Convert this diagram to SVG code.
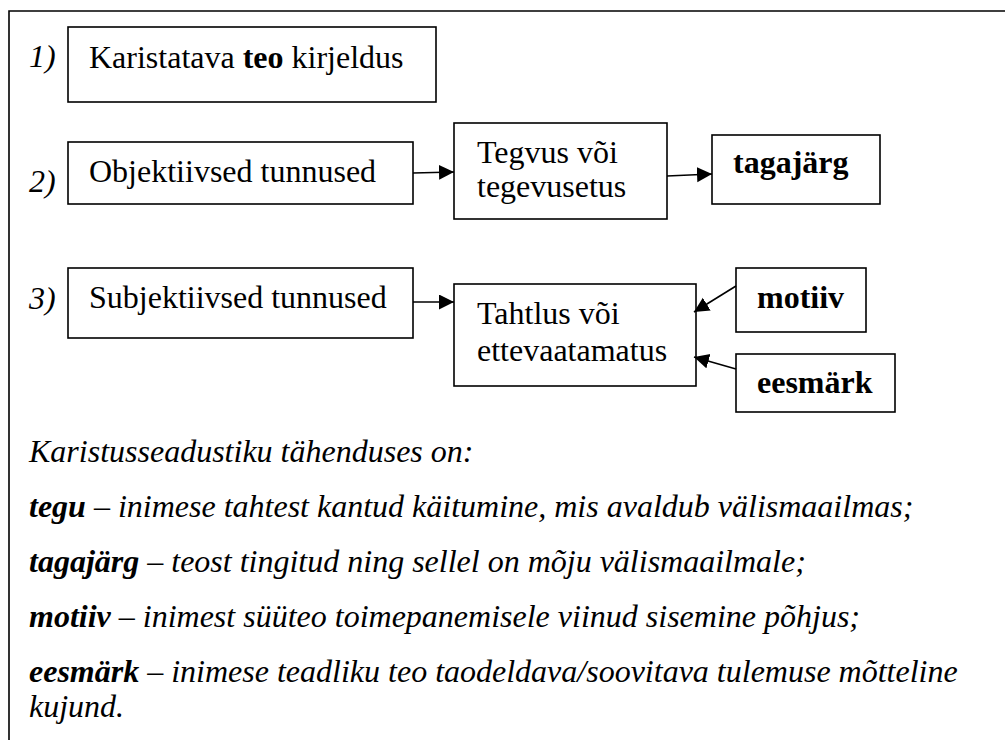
<svg xmlns="http://www.w3.org/2000/svg" width="1005" height="740" viewBox="0 0 1005 740" font-family="'Liberation Serif', 'DejaVu Serif', 'Times New Roman', serif">
<style>
.box{fill:#fff;stroke:#000;stroke-width:1.6}
.t{font-family:'Liberation Serif','DejaVu Serif','Times New Roman',serif;font-size:32px;fill:#000}
.b{font-weight:bold}
.i{font-style:italic}
.conn{stroke:#000;stroke-width:1.6;fill:none}
</style>
<defs>
<marker id="ah" markerUnits="userSpaceOnUse" markerWidth="16" markerHeight="16" refX="15" refY="7.5" orient="auto">
<path d="M0,0 L15,7.5 L0,15 Z" fill="#000"/>
</marker>
</defs>
<rect width="1005" height="740" fill="#fff"/>
<g id="frame">
<path d="M9,740 L9,11 L1005,11" class="conn"/>
</g>
<g id="labels">
<text class="t i" x="29" y="67">1)</text>
<text class="t i" x="29" y="192">2)</text>
<text class="t i" x="29" y="309">3)</text>
</g>
<g id="n1">
<rect class="box" x="68" y="27" width="368" height="75"/>
<text class="t" x="89" y="68">Karistatava <tspan class="b">teo</tspan> kirjeldus</text>
</g>
<g id="n2">
<rect class="box" x="68" y="142" width="345" height="62"/>
<text class="t" x="89" y="182">Objektiivsed tunnused</text>
</g>
<g id="n3">
<rect class="box" x="454" y="123" width="213" height="96"/>
<text class="t" x="477" y="163">Tegvus või</text>
<text class="t" x="477" y="197">tegevusetus</text>
</g>
<g id="n4">
<rect class="box" x="712" y="135" width="168" height="69"/>
<text class="t b" x="733" y="173">tagajärg</text>
</g>
<g id="n5">
<rect class="box" x="68" y="268" width="345" height="70"/>
<text class="t" x="89" y="308">Subjektiivsed tunnused</text>
</g>
<g id="n6">
<rect class="box" x="454" y="284" width="242" height="102"/>
<text class="t" x="477" y="324">Tahtlus või</text>
<text class="t" x="477" y="361">ettevaatamatus</text>
</g>
<g id="n7">
<rect class="box" x="736" y="268" width="130" height="64"/>
<text class="t b" x="757" y="308">motiiv</text>
</g>
<g id="n8">
<rect class="box" x="736" y="354" width="159" height="58"/>
<text class="t b" x="757" y="393">eesmärk</text>
</g>
<g id="connectors">
<line class="conn" x1="413" y1="173" x2="454" y2="172" marker-end="url(#ah)"/>
<line class="conn" x1="667" y1="176" x2="712" y2="174" marker-end="url(#ah)"/>
<line class="conn" x1="413" y1="302" x2="454" y2="302" marker-end="url(#ah)"/>
<line class="conn" x1="736" y1="286" x2="694" y2="312" marker-end="url(#ah)"/>
<line class="conn" x1="736" y1="369" x2="694" y2="357" marker-end="url(#ah)"/>
</g>
<g id="definitions">
<text class="t i" x="29" y="462">Karistusseadustiku tähenduses on:</text>
<text class="t i" x="29" y="517"><tspan class="b">tegu</tspan> – inimese tahtest kantud käitumine, mis avaldub välismaailmas;</text>
<text class="t i" x="29" y="572"><tspan class="b">tagajärg</tspan> – teost tingitud ning sellel on mõju välismaailmale;</text>
<text class="t i" x="29" y="627"><tspan class="b">motiiv</tspan> – inimest süüteo toimepanemisele viinud sisemine põhjus;</text>
<text class="t i" x="29" y="682"><tspan class="b">eesmärk</tspan> – inimese teadliku teo taodeldava/soovitava tulemuse mõtteline</text>
<text class="t i" x="29" y="717">kujund.</text>
</g>
</svg>
